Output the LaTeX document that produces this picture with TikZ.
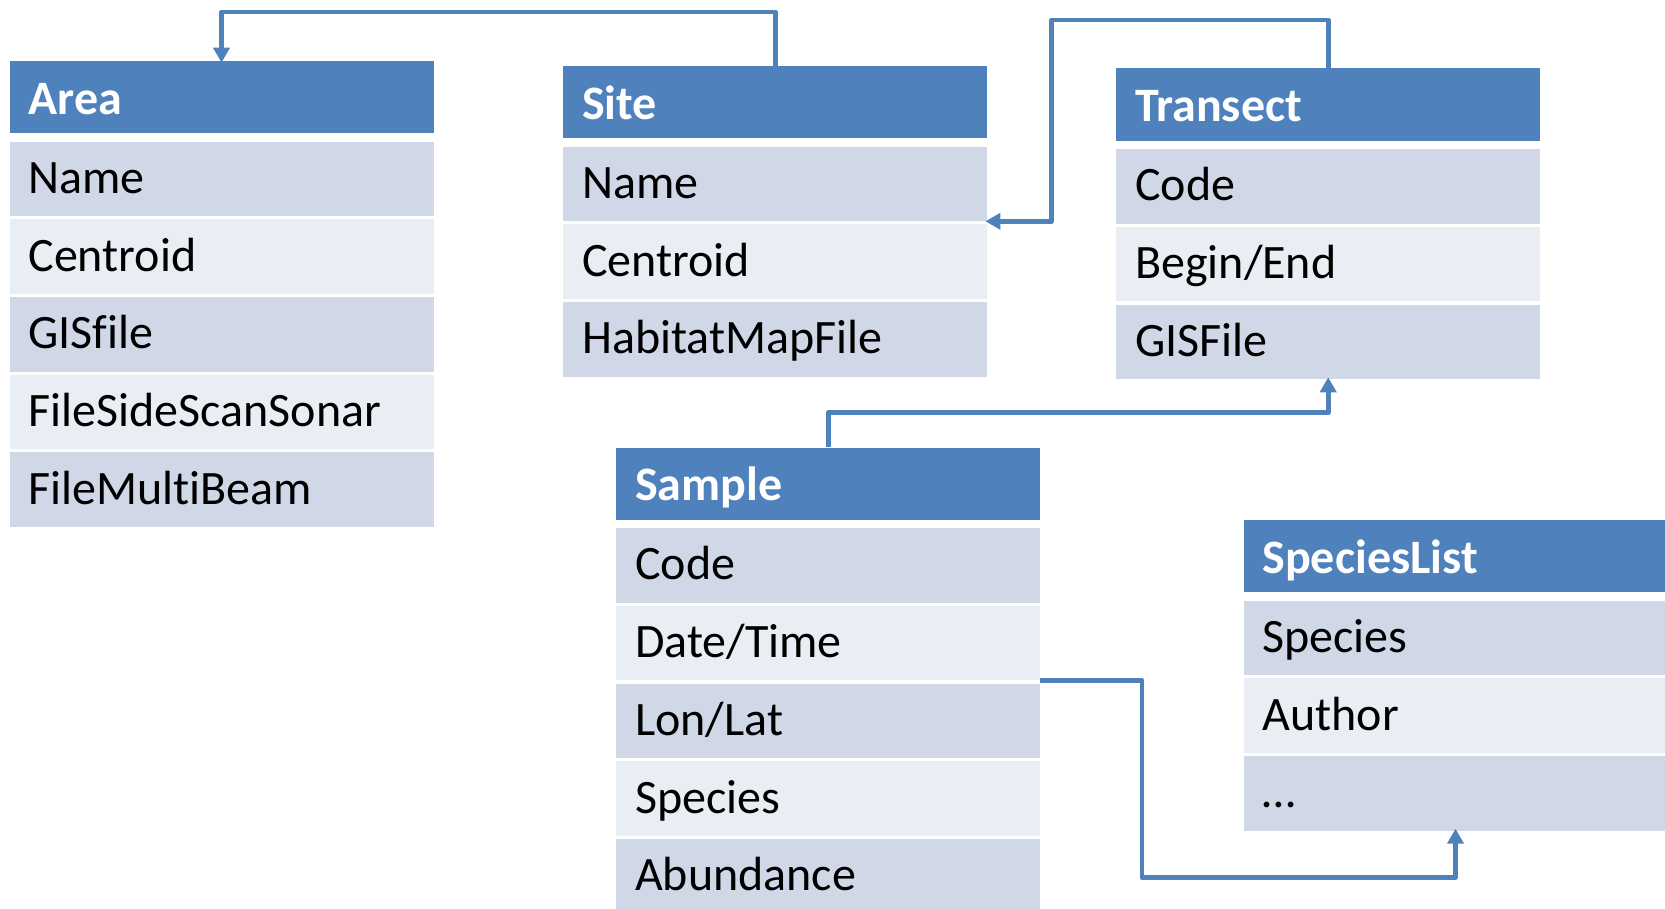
\documentclass[tikz,border=0pt]{standalone}
\usepackage{fontspec}
\setmainfont[Ligatures=NoCommon]{Carlito}
\usetikzlibrary{arrows.meta,calc}
\definecolor{hdr}{HTML}{4F81BD}
\definecolor{rowA}{HTML}{D0D8E8}
\definecolor{rowB}{HTML}{E9EDF4}
\tikzset{
  cell/.style={anchor=north west, inner xsep=19pt, inner ysep=0pt, text width=386pt,
    minimum height=74.5pt, text height=35pt, text depth=6pt,
    font=\fontsize{48}{50}\selectfont, text=black},
  hcell/.style={cell, fill=hdr, minimum height=72.3pt, text height=40pt, text depth=6pt,
    text=white, font=\fontsize{48}{50}\selectfont\bfseries},
  darkrow/.style={cell, fill=rowA},
  lightrow/.style={cell, fill=rowB},
  conn/.style={draw=hdr, line width=4.8pt, line join=round,
    -{Triangle[length=15pt,width=16pt]}, shorten >=-2pt}
}
\begin{document}
\begin{tikzpicture}[x=1pt,y=-1pt]
\useasboundingbox (0,0) rectangle (1665,909);
\fill[white] (0,0) rectangle (1665,909);
% Area
\node[hcell] (areaH) at (9.3,60.7) {Area};
\node[darkrow]  (areaR1) at ($(areaH.south west)+(0,8)$) {Name};
\node[lightrow] (areaR2) at ($(areaR1.south west)+(0,2.8)$) {Centroid};
\node[darkrow]  (areaR3) at ($(areaR2.south west)+(0,2.8)$) {GISfile};
\node[lightrow] (areaR4) at ($(areaR3.south west)+(0,2.8)$) {FileSideScanSonar};
\node[darkrow]  (areaR5) at ($(areaR4.south west)+(0,2.8)$) {FileMultiBeam};
% Site
\node[hcell] (siteH) at (563,65.7) {Site};
\node[darkrow]  (siteR1) at ($(siteH.south west)+(0,8)$) {Name};
\node[lightrow] (siteR2) at ($(siteR1.south west)+(0,2.8)$) {Centroid};
\node[darkrow]  (siteR3) at ($(siteR2.south west)+(0,2.8)$) {HabitatMapFile};
% Transect
\node[hcell] (transH) at (1116,68.3) {Transect};
\node[darkrow]  (transR1) at ($(transH.south west)+(0,8)$) {Code};
\node[lightrow] (transR2) at ($(transR1.south west)+(0,2.8)$) {Begin/End};
\node[darkrow]  (transR3) at ($(transR2.south west)+(0,2.8)$) {GISFile};
% Sample
\node[hcell] (sampH) at (616,447.3) {Sample};
\node[darkrow]  (sampR1) at ($(sampH.south west)+(0,8)$) {Code};
\node[lightrow] (sampR2) at ($(sampR1.south west)+(0,2.8)$) {Date/Time};
\node[darkrow]  (sampR3) at ($(sampR2.south west)+(0,2.8)$) {Lon/Lat};
\node[lightrow] (sampR4) at ($(sampR3.south west)+(0,2.8)$) {Species};
\node[darkrow]  (sampR5) at ($(sampR4.south west)+(0,2.8)$) {Abundance};
% SpeciesList
\node[hcell] (specH) at (1243.3,519.7) {SpeciesList};
\node[darkrow]  (specR1) at ($(specH.south west)+(0,8)$) {Species};
\node[lightrow] (specR2) at ($(specR1.south west)+(0,2.8)$) {Author};
\node[darkrow]  (specR3) at ($(specR2.south west)+(0,2.8)$) {…};
% connectors
\coordinate (y1) at (0,12);
\coordinate (c2) at (1051.7,20);
\coordinate (y4) at (0,412.5);
\coordinate (c5) at (1142,877.3);
\draw[conn] (siteH.north) -- (siteH.north |- y1) -- (areaH.north |- y1) -- (areaH.north);
\draw[conn] (transH.north) -- (transH.north |- c2) -- (c2) -- (c2 |- siteR1.south east) -- (siteR1.south east);
\draw[conn] (sampH.north) -- (sampH.north |- y4) -- (transR3.south |- y4) -- (transR3.south);
\draw[conn] (sampR2.south east) -- (sampR2.south east -| c5) -- (c5) -- (c5 -| specR3.south) -- (specR3.south);
\end{tikzpicture}
\end{document}
